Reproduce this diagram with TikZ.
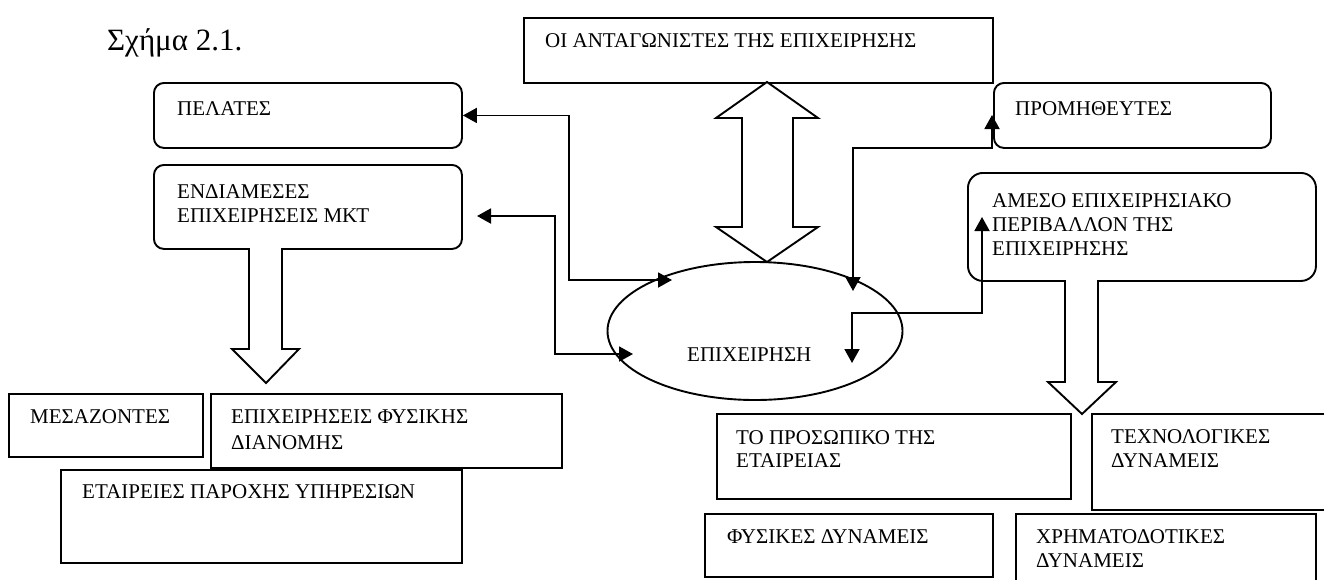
\documentclass[tikz,border=0pt]{standalone}
\usepackage{fontspec}
\setmainfont{Liberation Serif}
\usetikzlibrary{arrows.meta,shapes.geometric}
\newcommand\mlines[1]{\begin{tabular}[t]{@{}l@{}}#1\end{tabular}}
\tikzset{
  box/.style={draw, line width=1.9pt, inner sep=0pt, anchor=north west},
  rbox/.style={box, rounded corners=10pt},
  txt/.style={anchor=base west, inner sep=0pt, font=\fontsize{21}{24.5}\selectfont},
  conn/.style={line width=1.9pt, <->, >={Triangle[length=14pt,width=15pt]}},
  blk/.style={draw, line width=1.9pt, fill=white, line join=miter}
}
\begin{document}
\begin{tikzpicture}[x=1pt, y=-1pt]
\useasboundingbox (0,0) rectangle (1324,579);

% title
\node[anchor=base west, inner sep=0pt, font=\fontsize{31}{36}\selectfont] (title) at (107,50) {Σχήμα 2.1.};

% boxes
\node[box, minimum width=469pt, minimum height=65pt] (ant) at (523,17) {};
\node[txt] (antT) at (545,47) {ΟΙ ΑΝΤΑΓΩΝΙΣΤΕΣ ΤΗΣ ΕΠΙΧΕΙΡΗΣΗΣ};

\node[rbox, minimum width=308pt, minimum height=65pt] (pel) at (153,82) {};
\node[txt] (pelT) at (177,115) {ΠΕΛΑΤΕΣ};

\node[rbox, minimum width=308pt, minimum height=84pt] (end) at (153,164) {};
\node[txt] (endT) at (177,198) {\mlines{ΕΝΔΙΑΜΕΣΕΣ\\ΕΠΙΧΕΙΡΗΣΕΙΣ ΜΚΤ}};

\node[rbox, minimum width=277pt, minimum height=65pt] (prom) at (993,82) {};
\node[txt] (promT) at (1015,115) {ΠΡΟΜΗΘΕΥΤΕΣ};

\node[rbox, rounded corners=15pt, minimum width=348pt, minimum height=108pt] (ames) at (967,172) {};
\node[txt, font=\fontsize{21}{24}\selectfont] (amesT) at (992,207) {\mlines{ΑΜΕΣΟ ΕΠΙΧΕΙΡΗΣΙΑΚΟ\\ΠΕΡΙΒΑΛΛΟΝ ΤΗΣ\\ΕΠΙΧΕΙΡΗΣΗΣ}};

\node[box, minimum width=194pt, minimum height=63pt] (mes) at (8,393) {};
\node[txt] (mesT) at (30,423) {ΜΕΣΑΖΟΝΤΕΣ};

\node[box, minimum width=351pt, minimum height=74pt] (fd) at (210,393) {};
\node[txt, font=\fontsize{21}{26}\selectfont] (fdT) at (231,423) {\mlines{ΕΠΙΧΕΙΡΗΣΕΙΣ ΦΥΣΙΚΗΣ\\ΔΙΑΝΟΜΗΣ}};

\node[box, minimum width=401pt, minimum height=93pt] (et) at (60,469) {};
\node[txt] (etT) at (82,498) {ΕΤΑΙΡΕΙΕΣ ΠΑΡΟΧΗΣ ΥΠΗΡΕΣΙΩΝ};

\node[box, minimum width=354pt, minimum height=85pt] (pros) at (716,413) {};
\node[txt, font=\fontsize{21}{23.5}\selectfont] (prosT) at (736,444) {\mlines{ΤΟ ΠΡΟΣΩΠΙΚΟ ΤΗΣ\\ΕΤΑΙΡΕΙΑΣ}};

\node[box, minimum width=240pt, minimum height=96pt] (tech) at (1091,413) {};
\node[txt] (techT) at (1111,443) {\mlines{ΤΕΧΝΟΛΟΓΙΚΕΣ\\ΔΥΝΑΜΕΙΣ}};

\node[box, minimum width=288pt, minimum height=63pt] (fys) at (704,513) {};
\node[txt] (fysT) at (727,543) {ΦΥΣΙΚΕΣ ΔΥΝΑΜΕΙΣ};

\node[box, minimum width=300pt, minimum height=80pt] (chr) at (1015,513) {};
\node[txt] (chrT) at (1036,543) {\mlines{ΧΡΗΜΑΤΟΔΟΤΙΚΕΣ\\ΔΥΝΑΜΕΙΣ}};

% central ellipse
\node[draw, ellipse, line width=1.9pt, inner sep=0pt, minimum width=295pt, minimum height=138pt] (epix) at (755,331) {};
\node[txt] (epixT) at (687,361) {ΕΠΙΧΕΙΡΗΣΗ};

% block arrows
\draw[blk] (767,82) -- (818,118) -- (793,118) -- (793,227) -- (818,227) -- (767,262)
  -- (716,227) -- (742,227) -- (742,118) -- (716,118) -- cycle;
\draw[blk] (249,248) -- (249,349) -- (232,349) -- (266,383) -- (299,349) -- (282,349) -- (282,248);
\draw[blk] (1065,280) -- (1065,382) -- (1048,382) -- (1082,414) -- (1116,382) -- (1098,382) -- (1098,280);

% connectors
\coordinate (a1) at (672,280);
\draw[conn] (pel.east) -- ++(106,0) |- (a1);

\coordinate (b0) at (477,216);
\coordinate (b1) at (633,354);
\draw[conn] (b0) -- ++(78,0) |- (b1);

\coordinate (c0) at (853,291);
\coordinate (c1) at (992,115);
\draw[conn] (c0) -- (853,148) -- (992,148) -- (c1);

\coordinate (d0) at (852,363);
\coordinate (d1) at (982,217);
\draw[conn] (d0) -- (852,313) -| (d1);
\end{tikzpicture}
\end{document}
